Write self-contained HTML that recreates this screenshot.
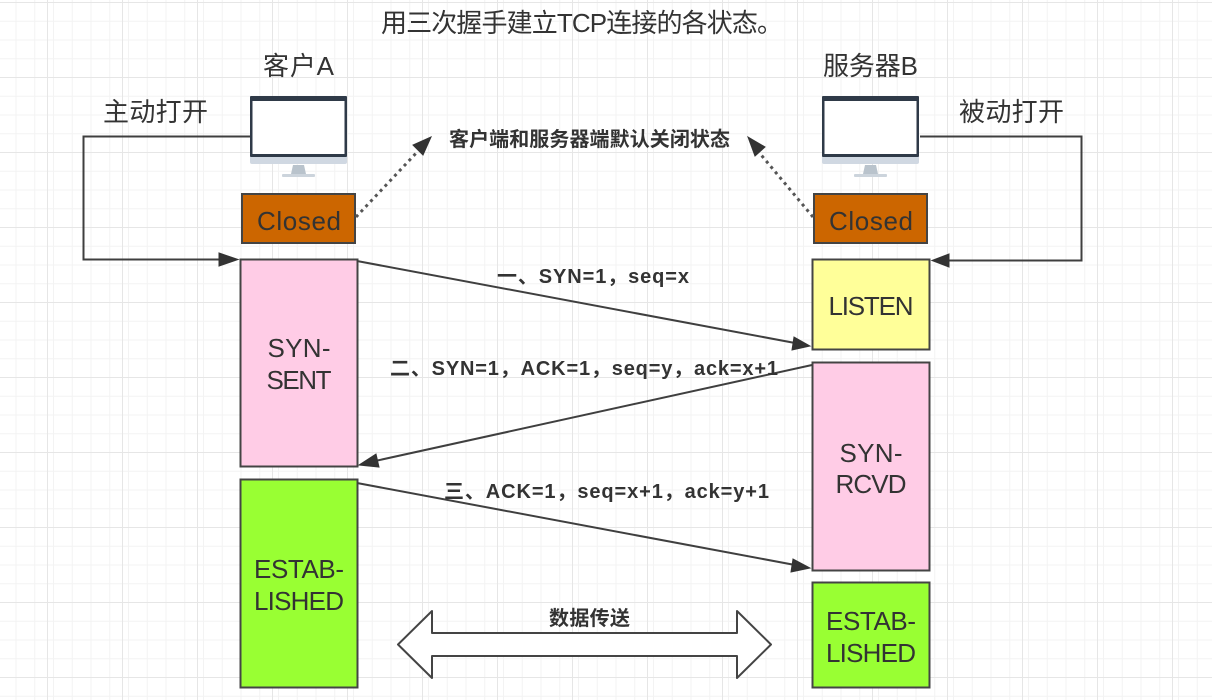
<!DOCTYPE html>
<html><head><meta charset="utf-8"><style>
html,body{margin:0;padding:0;background:#fff}
svg{display:block}
text{font-family:"Liberation Sans","Noto Sans CJK SC",sans-serif;fill:#333;text-anchor:middle}
.b{font-weight:bold;font-size:20px}
.l{font-size:26px}
.s{stroke:#444;stroke-width:2;}
.c{fill:none;stroke:#3f3f3f;stroke-width:2}
</style></head><body>
<svg width="1212" height="700" viewBox="0 0 1212 700" xmlns="http://www.w3.org/2000/svg">
<defs>
<pattern id="g1" width="18.75" height="18.75" patternUnits="userSpaceOnUse" x="-3.25" y="2">
<path d="M0 .5H18.75M.5 0V18.75" fill="none" stroke="#f3f3f3" stroke-width="1"/>
</pattern>
<pattern id="g2" width="75" height="75" patternUnits="userSpaceOnUse" x="47" y="2">
<path d="M0 .5H75M.5 0V75" fill="none" stroke="#e6e6e6" stroke-width="1"/>
</pattern>
</defs>
<rect width="1212" height="700" fill="#fff"/>
<rect width="1212" height="700" fill="url(#g1)"/>
<rect width="1212" height="700" fill="url(#g2)"/>

<text x="582" y="32" class="l" textLength="402">用三次握手建立TCP连接的各状态。</text>
<text x="298.500" y="75" class="l" textLength="71">客户A</text>
<text x="870.500" y="75" class="l" textLength="95">服务器B</text>
<text x="155.500" y="121" class="l" textLength="105">主动打开</text>
<text x="1011.500" y="121" class="l" textLength="105">被动打开</text>
<text x="589.500" y="146" class="b" textLength="281">客户端和服务器端默认关闭状态</text>

<!-- monitors -->
<g>
<rect x="250" y="96" width="97" height="68" rx="2" fill="#d0d8e2"/>
<rect x="250" y="96" width="97" height="61" rx="1" fill="#2f3a48"/>
<rect x="252.500" y="101" width="92" height="53" fill="#fff"/>
<path d="M293 165h11l2 9h-15z" fill="#b9c3cc"/>
<rect x="282" y="174" width="33" height="3" rx="1" fill="#ccd4dc"/>
</g>
<g transform="translate(572,0)">
<rect x="250" y="96" width="97" height="68" rx="2" fill="#d0d8e2"/>
<rect x="250" y="96" width="97" height="61" rx="1" fill="#2f3a48"/>
<rect x="252.500" y="101" width="92" height="53" fill="#fff"/>
<path d="M293 165h11l2 9h-15z" fill="#b9c3cc"/>
<rect x="282" y="174" width="33" height="3" rx="1" fill="#ccd4dc"/>
</g>

<!-- boxes -->
<rect x="242" y="194" width="113" height="49" fill="#cc6600" class="s"/>
<rect x="814" y="194" width="113" height="49" fill="#cc6600" class="s"/>
<rect x="240.500" y="259.500" width="117" height="207" fill="#ffcce6" class="s"/>
<rect x="240.500" y="479.500" width="117" height="208" fill="#99ff33" class="s"/>
<rect x="812.500" y="259.500" width="117" height="90" fill="#ffff99" class="s"/>
<rect x="812.500" y="362.500" width="117" height="208" fill="#ffcce6" class="s"/>
<rect x="812.500" y="582.500" width="117" height="105" fill="#99ff33" class="s"/>

<text x="299" y="230" class="l" textLength="84">Closed</text>
<text x="871" y="230" class="l" textLength="84">Closed</text>
<text x="299" y="357" class="l" textLength="63">SYN-</text>
<text x="299" y="389" class="l" textLength="65">SENT</text>
<text x="299" y="578" class="l" textLength="90">ESTAB-</text>
<text x="299" y="610" class="l" textLength="90">LISHED</text>
<text x="871" y="315" class="l" textLength="85">LISTEN</text>
<text x="871" y="462" class="l" textLength="63">SYN-</text>
<text x="871" y="493" class="l" textLength="71">RCVD</text>
<text x="871" y="630" class="l" textLength="90">ESTAB-</text>
<text x="871" y="662" class="l" textLength="90">LISHED</text>

<!-- connectors -->
<path d="M250 136.500H83.500V259.500H222" class="c"/>
<path d="M238 259.500L219 253V266Z" fill="#333" stroke="#333"/>
<path d="M920 136.500H1081.500V260.500H948" class="c"/>
<path d="M932 260.500L949 254V267Z" fill="#333" stroke="#333"/>

<path d="M356 217L420 149" fill="none" stroke="#555" stroke-width="3" stroke-dasharray="3 4"/>
<path d="M431 137L423 155L413 145Z" fill="#333" stroke="#333"/>
<path d="M813 217L757 150" fill="none" stroke="#555" stroke-width="3" stroke-dasharray="3 4"/>
<path d="M748 137L765 147L755 156Z" fill="#333" stroke="#333"/>

<path d="M357 261L795 343" class="c"/>
<path d="M810 346L792 350L794 337Z" fill="#333" stroke="#333"/>
<path d="M812 365L375 461" class="c"/>
<path d="M359 465L376 454L379 467Z" fill="#333" stroke="#333"/>
<path d="M357 483L795 565" class="c"/>
<path d="M810 568L791 572L793 559Z" fill="#333" stroke="#333"/>

<text x="593" y="283" class="b" textLength="192">一、SYN=1，seq=x</text>
<text x="584" y="375" class="b" textLength="388">二、SYN=1，ACK=1，seq=y，ack=x+1</text>
<text x="606.500" y="498" class="b" textLength="325">三、ACK=1，seq=x+1，ack=y+1</text>

<path d="M398 644.500L432 611V633H737V611L771 644.500L737 678V656H432V678Z" fill="#fff" stroke="#444" stroke-width="2" stroke-linejoin="round"/>
<text x="589.500" y="625" class="b" textLength="81">数据传送</text>
</svg>
</body></html>
